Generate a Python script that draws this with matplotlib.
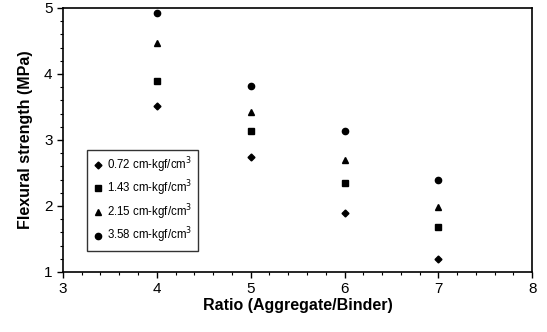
import matplotlib
matplotlib.use('Agg')
from matplotlib import pyplot as plt
from matplotlib.ticker import MultipleLocator

ratio = [4, 5, 6, 7]
s072 = [3.51, 2.74, 1.90, 1.20]
s143 = [3.89, 3.14, 2.34, 1.68]
s215 = [4.47, 3.42, 2.70, 1.98]
s358 = [4.92, 3.81, 3.13, 2.40]
labels = ['0.72 cm-kgf/cm$^3$', '1.43 cm-kgf/cm$^3$',
          '2.15 cm-kgf/cm$^3$', '3.58 cm-kgf/cm$^3$']

plt.rcParams['font.family'] = ['Liberation Sans', 'DejaVu Sans']
fig = plt.figure(figsize=(5.47, 3.32), dpi=100)
ax = fig.add_axes([0.115, 0.181, 0.858, 0.795])

ax.plot(ratio, s072, 'D', color='k', ms=3.5, ls='none', label=labels[0])
ax.plot(ratio, s143, 's', color='k', ms=4.5, ls='none', label=labels[1])
ax.plot(ratio, s215, '^', color='k', ms=5, ls='none', label=labels[2])
ax.plot(ratio, s358, 'o', color='k', ms=4.5, ls='none', label=labels[3])

ax.set_xlim(3, 8)
ax.set_ylim(1, 5)
ax.xaxis.set_major_locator(MultipleLocator(1))
ax.xaxis.set_minor_locator(MultipleLocator(0.2))
ax.yaxis.set_major_locator(MultipleLocator(1))
ax.yaxis.set_minor_locator(MultipleLocator(0.2))
ax.tick_params(which='major', direction='out', length=4, labelsize=11, width=1)
ax.tick_params(which='minor', direction='out', length=2.5, width=0.8)
for sp in ax.spines.values():
    sp.set_linewidth(1.2)

ax.set_xlabel('Ratio (Aggregate/Binder)', fontsize=11.5, fontweight='bold', labelpad=1)
ax.set_ylabel('Flexural strength (MPa)', fontsize=11.5, fontweight='bold', labelpad=8)

leg = ax.legend(loc='lower left', bbox_to_anchor=(0.047, 0.072), fontsize=8.3,
                frameon=True, fancybox=False, edgecolor='k', handletextpad=0.3,
                borderpad=0.45, labelspacing=0.35, handlelength=1.0,
                borderaxespad=0.2)
leg.get_frame().set_linewidth(1.0)

fig.savefig('out.png', dpi=100)
